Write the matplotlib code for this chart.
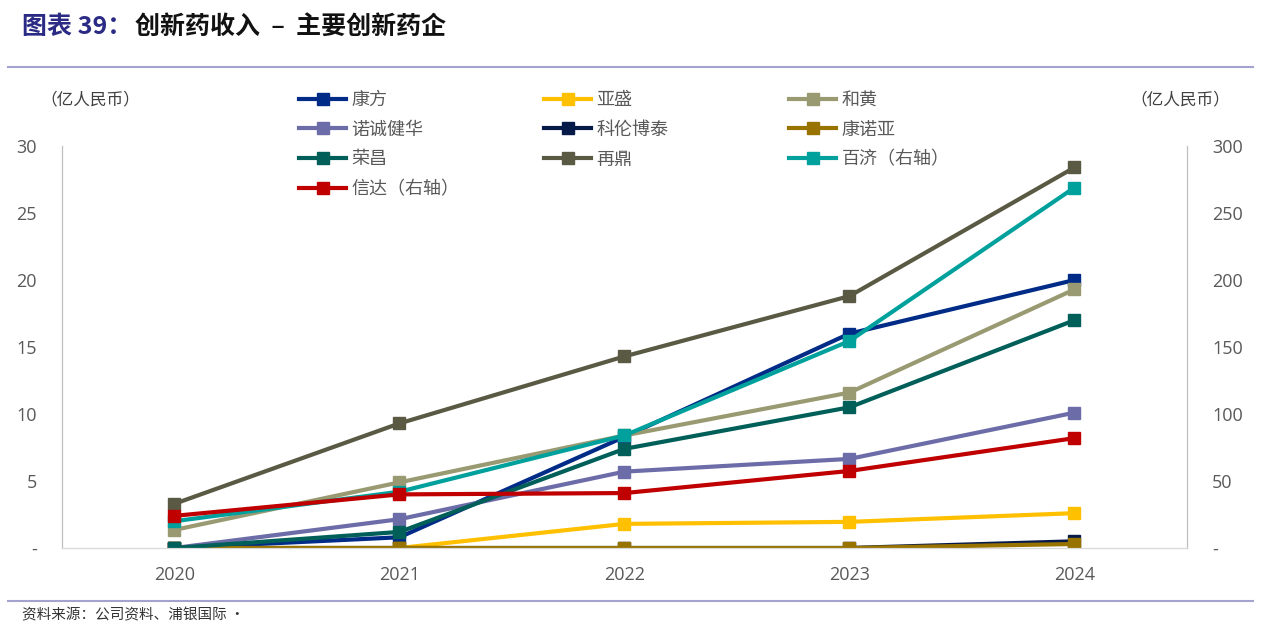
import numpy as np
import matplotlib.pyplot as plt
from matplotlib.lines import Line2D

plt.rcParams['font.family'] = ['Noto Sans CJK SC', 'DejaVu Sans']

years = [2020, 2021, 2022, 2023, 2024]

# 左轴（亿人民币）
kangfang = [0, 0.8, 8.3, 16.0, 20.0]
yasheng = [0, 0, 1.8, 1.95, 2.6]
hehuang = [1.35, 4.9, 8.4, 11.6, 19.3]
nuocheng = [0, 2.15, 5.7, 6.65, 10.1]
kelun = [0, 0, 0, 0, 0.5]
kangnuoya = [0, 0, 0, 0, 0.3]
rongchang = [0, 1.2, 7.4, 10.5, 17.0]
zaiding = [3.3, 9.3, 14.3, 18.8, 28.4]
# 右轴（亿人民币）
baiji = [20, 42, 84, 154.5, 269]
xinda = [24, 40, 41, 57.5, 82]

left_series = [
    ("康方", kangfang, "#002B87"),
    ("亚盛", yasheng, "#FFC000"),
    ("和黄", hehuang, "#9A9A72"),
    ("诺诚健华", nuocheng, "#6C6CA8"),
    ("科伦博泰", kelun, "#061A4A"),
    ("康诺亚", kangnuoya, "#987300"),
    ("荣昌", rongchang, "#005F59"),
    ("再鼎", zaiding, "#5A5A44"),
]
right_series = [
    ("百济（右轴）", baiji, "#00A19C"),
    ("信达（右轴）", xinda, "#C00000"),
]

fig = plt.figure(figsize=(12.67, 6.31), dpi=100)
ax = fig.add_axes([62/1267, 1-548/631, (1187-62)/1267, (548-146)/631])
ax2 = ax.twinx()

handles = {}
for name, vals, c in left_series:
    h, = ax.plot(years, vals, color=c, lw=3, marker='s', ms=9, label=name)
    handles[name] = h
for name, vals, c in right_series:
    h, = ax2.plot(years, vals, color=c, lw=3, marker='s', ms=9, label=name)
    handles[name] = h

ax.set_xlim(2019.5, 2024.5)
ax.set_ylim(0, 30)
ax2.set_ylim(0, 300)
ax.set_xticks(years)
ax.set_yticks(np.arange(0, 31, 5))
ax2.set_yticks(np.arange(0, 301, 50))
ax.set_yticklabels(['-'] + [str(v) for v in range(5, 31, 5)])
ax2.set_yticklabels(['-'] + [str(v) for v in range(50, 301, 50)])

for lab in ax.get_xticklabels() + ax.get_yticklabels() + ax2.get_yticklabels():
    lab.set_fontfamily('Open Sans')
    lab.set_fontsize(13)
    lab.set_color('#595959')

ax.tick_params(axis='both', length=0)
ax.tick_params(axis='y', pad=18)
ax.tick_params(axis='x', pad=13)
ax2.tick_params(axis='y', length=0, pad=18)

for a in (ax, ax2):
    a.spines['top'].set_visible(False)
    a.spines['left'].set_color('#BFBFBF')
    a.spines['right'].set_color('#BFBFBF')
    a.spines['bottom'].set_color('#D9D9D9')

# 图例：三列，逐行排列
cols = [["康方", "诺诚健华", "荣昌", "信达（右轴）"],
        ["亚盛", "科伦博泰", "再鼎"],
        ["和黄", "康诺亚", "百济（右轴）"]]
xs = [292/1267, 537/1267, 782/1267]
for names, x in zip(cols, xs):
    fig.legend([handles[n] for n in names], names, loc='upper left',
               bbox_to_anchor=(x, 1-84/631), frameon=False,
               fontsize=13, handlelength=2.6, handletextpad=0.3,
               labelspacing=0.64, borderaxespad=0, labelcolor='#595959')

fig.text(40/1267, 1-100/631, "（亿人民币）", fontsize=12, color='#404040', va='center')
fig.text(1130/1267, 1-100/631, "（亿人民币）", fontsize=12, color='#404040', va='center')

# 标题
t1 = fig.text(22/1267, 1-27/631, "图表 39：", fontsize=18, fontweight='bold',
              color='#2B2B85', va='center')
ax.annotate("创新药收入  –  主要创新药企", xy=(1, 0), xycoords=t1, xytext=(2, 0),
            textcoords='offset points', fontsize=18, fontweight='bold',
            color='#111111', va='bottom', annotation_clip=False)

fig.add_artist(Line2D([8/1267, 1253/1267], [1-67/631, 1-67/631], color='#A3A3CF', lw=1.5))
fig.add_artist(Line2D([8/1267, 1253/1267], [1-601/631, 1-601/631], color='#A3A3CF', lw=1.5))
fig.text(22/1267, 1-615/631, "资料来源：公司资料、浦银国际 ·", fontsize=10.5, color='#333333', va='center')

fig.savefig("out.png", dpi=100)
